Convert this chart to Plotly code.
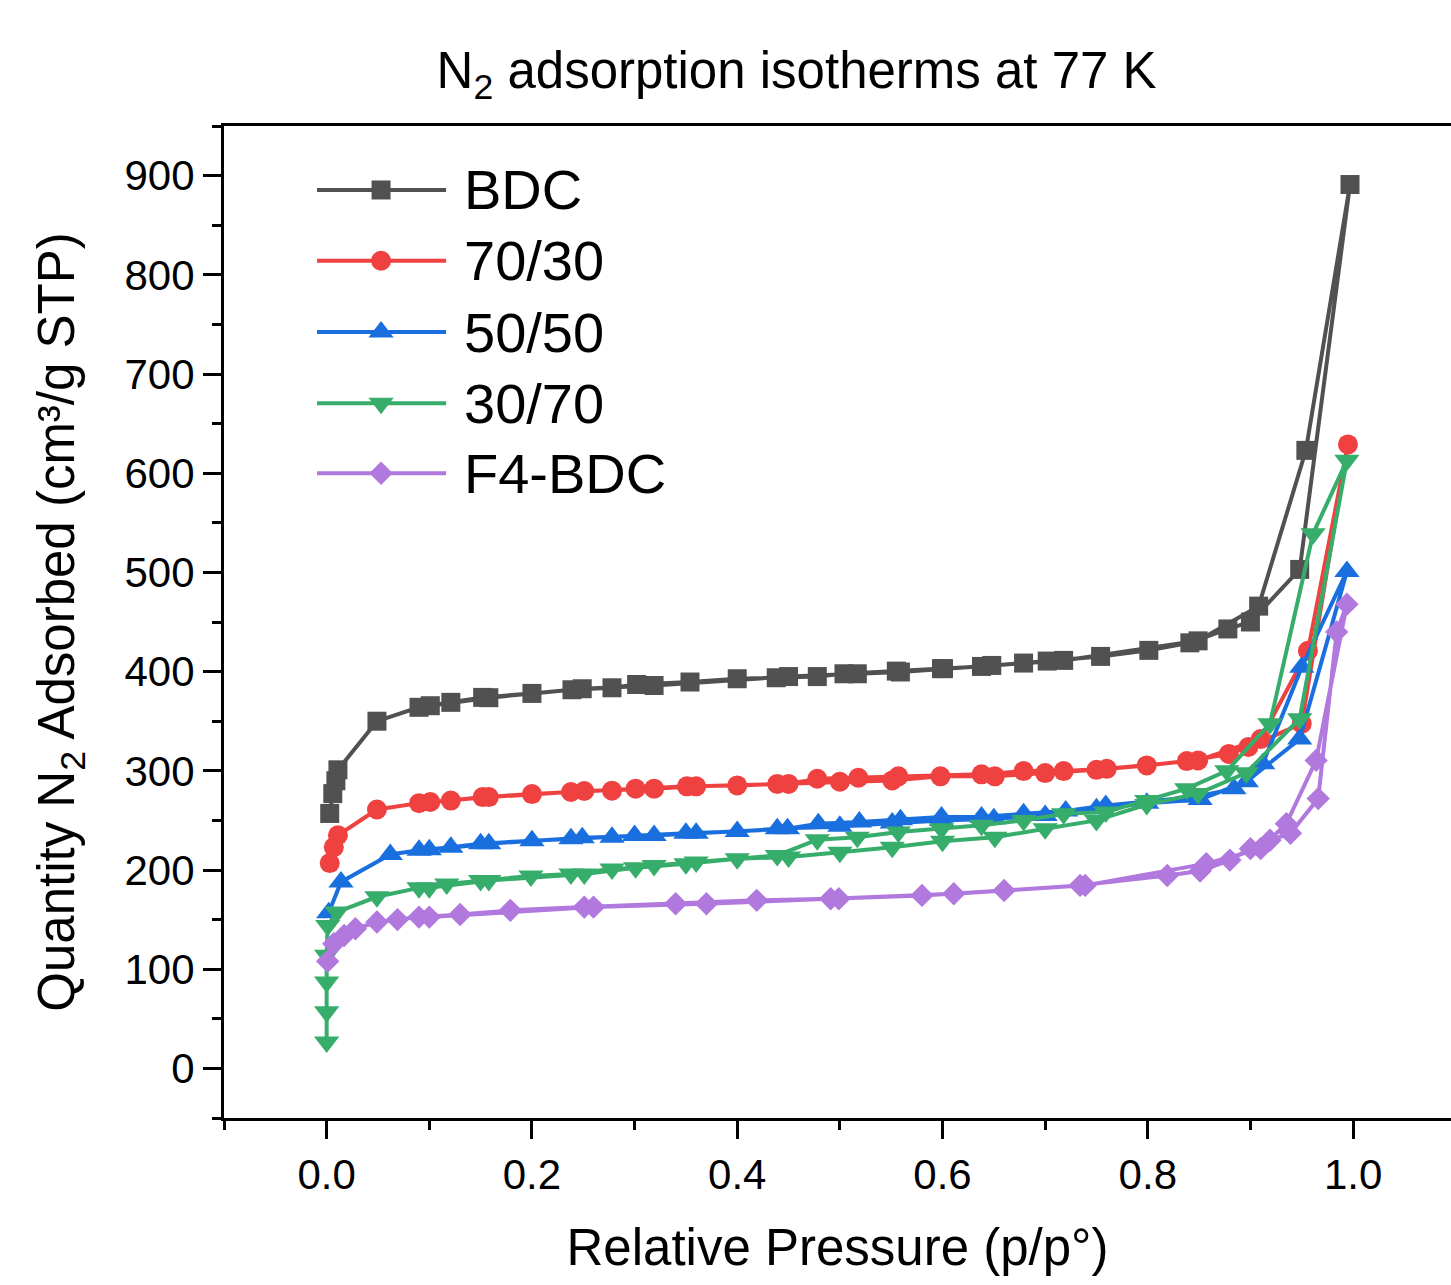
import plotly.graph_objects as go

# ---- data ----
series_names = ["BDC", "70/30", "50/50", "30/70", "F4-BDC"]
series_colors = ["#515151", "#F04141", "#1A6FDF", "#37AD6B", "#B178DE"]
series_symbols = ["square", "circle", "triangle-up", "triangle-down", "diamond"]
series_msize = [19, 20, 22, 22, 18]

# BDC: adsorption then desorption branch
bdc_x = [0.003, 0.006, 0.009, 0.011, 0.049, 0.090, 0.121, 0.152, 0.200, 0.239, 0.278, 0.302,
         0.354, 0.400, 0.438, 0.478, 0.504, 0.555, 0.599, 0.638, 0.679, 0.702, 0.754, 0.801,
         0.841, 0.878, 0.900, 0.948, 0.997,
         0.954, 0.908, 0.849, 0.718, 0.648, 0.601, 0.559, 0.517, 0.450, 0.319, 0.249, 0.158, 0.101]
bdc_y = [257, 277, 290, 301, 350, 364, 369, 374, 378, 381.7, 383.7, 387,
         389.5, 392.8, 393.8, 395, 397.8, 400.5, 403, 405.2, 408.6, 410.6, 415.3, 421.4,
         429, 443, 450, 503, 891,
         623, 466, 431, 411.3, 406.2, 403, 399.6, 397.8, 395, 386, 382.7, 373.7, 365.6]

# 70/30
r7030_x = [0.003, 0.007, 0.011, 0.049, 0.090, 0.121, 0.152, 0.200, 0.238, 0.278, 0.301, 0.351,
           0.400, 0.439, 0.500, 0.551, 0.598, 0.651, 0.700, 0.750, 0.799, 0.838, 0.879, 0.898,
           0.950, 0.995,
           0.956, 0.910, 0.849, 0.760, 0.718, 0.679, 0.638, 0.557, 0.518, 0.478, 0.450, 0.360,
           0.319, 0.251, 0.158, 0.101]
r7030_y = [207, 223, 235, 261, 267.4, 270, 273.5, 276.5, 278.6, 280, 282, 284.3,
           285.3, 286.8, 289, 290.3, 294.4, 294.4, 297.7, 301, 305.4, 309.8, 317, 324,
           347.5, 629,
           421, 332, 310.5, 302, 299.7, 299.7, 296.4, 294.4, 293, 292, 286.8, 284.3,
           282, 279.6, 273.5, 268.5]

# 50/50
r5050_x = [0.002, 0.014, 0.062, 0.090, 0.121, 0.150, 0.200, 0.238, 0.278, 0.300, 0.350, 0.400,
           0.439, 0.500, 0.551, 0.599, 0.650, 0.700, 0.750, 0.799, 0.851, 0.896, 0.948, 0.994,
           0.950, 0.912, 0.884, 0.845, 0.759, 0.720, 0.679, 0.638, 0.599, 0.559, 0.519, 0.479,
           0.449, 0.360, 0.319, 0.249, 0.158, 0.100]
r5050_y = [157, 188, 215.7, 219.8, 223, 226.5, 229.5, 231.5, 233, 234.8, 237, 238.8,
           241.6, 244, 247.3, 250, 251.7, 255, 261.8, 267.4, 271, 289, 332, 501,
           404.5, 307, 282, 273.5, 265, 259.4, 256.7, 253.4, 253.4, 250.7, 248.3, 246.6,
           241.6, 237, 234.8, 232.5, 226.5, 220.4]

# 30/70
r3070_x = [0.0, 0.0, 0.0, 0.0, 0.001, 0.010, 0.049, 0.090, 0.117, 0.150, 0.199, 0.238, 0.278,
           0.301, 0.350, 0.400, 0.450, 0.500, 0.551, 0.600, 0.651, 0.700, 0.750, 0.799, 0.849,
           0.896, 0.948, 0.994,
           0.961, 0.919, 0.877, 0.838, 0.799, 0.759, 0.718, 0.679, 0.638, 0.599, 0.557, 0.517,
           0.478, 0.439, 0.360, 0.319, 0.251, 0.158, 0.100]
r3070_y = [26.5, 57, 87, 114, 144, 157.6, 173, 182, 186, 189.5, 194, 196, 201,
           202.3, 206.3, 211.4, 213, 218, 223, 229, 233, 241.6, 250, 266, 277,
           298, 352.5, 613,
           539, 347.5, 300, 282, 270, 258.4, 256.7, 250, 245, 241.6, 238.2, 233,
           230.5, 214.7, 208, 204.6, 196, 189.5, 182]

# F4-BDC
f4_x = [0.001, 0.007, 0.017, 0.028, 0.049, 0.069, 0.090, 0.130, 0.179, 0.251, 0.340, 0.419,
        0.491, 0.580, 0.660, 0.734, 0.819, 0.851, 0.880, 0.900, 0.919, 0.939, 0.966, 0.984, 0.994,
        0.964, 0.935, 0.910, 0.857, 0.739, 0.611, 0.499, 0.370, 0.260, 0.100]
f4_y = [108, 125.7, 134, 140.8, 147.6, 150, 152.5, 155.2, 159.3, 162.6, 166, 169.4,
        171, 174.4, 179.4, 184.5, 194.5, 199, 210, 221.5, 230, 237, 272, 440, 468,
        310.5, 246.7, 221.5, 206.4, 184.5, 176, 171, 166, 162.6, 152.5]

xs = [bdc_x, r7030_x, r5050_x, r3070_x, f4_x]
ys = [bdc_y, r7030_y, r5050_y, r3070_y, f4_y]

x_ticks = [0.0, 0.2, 0.4, 0.6, 0.8, 1.0]
x_ticklabels = ["0.0", "0.2", "0.4", "0.6", "0.8", "1.0"]
y_ticks = [0, 100, 200, 300, 400, 500, 600, 700, 800, 900]

FONT = "Liberation Sans, Arial, Helvetica, sans-serif"
LW = 4

fig = go.Figure()
for name, color, sym, ms, x, y in zip(series_names, series_colors, series_symbols, series_msize, xs, ys):
    fig.add_trace(go.Scatter(
        x=x, y=y, mode="lines+markers", name=name, showlegend=False,
        line=dict(color=color, width=LW),
        marker=dict(symbol=sym, size=ms, color=color, line=dict(width=0)),
        cliponaxis=False,
    ))

# ---- custom legend (long sample lines as in the reference) ----
leg_x0, leg_xm, leg_x1, leg_xt = 0.0758, 0.128, 0.181, 0.194
leg_rows = [0.9355, 0.8642, 0.7923, 0.7204, 0.6499]
for name, color, sym, ms, ly in zip(series_names, series_colors, series_symbols, series_msize, leg_rows):
    fig.add_trace(go.Scatter(
        x=[leg_x0, leg_x1], y=[ly, ly], xaxis="x2", yaxis="y2",
        mode="lines", showlegend=False, hoverinfo="skip",
        line=dict(color=color, width=LW), cliponaxis=False,
    ))
    fig.add_trace(go.Scatter(
        x=[leg_xm], y=[ly], xaxis="x2", yaxis="y2",
        mode="markers", showlegend=False, hoverinfo="skip",
        marker=dict(symbol=sym, size=ms, color=color, line=dict(width=0)),
        cliponaxis=False,
    ))
    fig.add_annotation(
        x=leg_xt, y=ly, xref="paper", yref="paper", text=name, showarrow=False,
        xanchor="left", yanchor="middle", font=dict(family=FONT, size=56, color="black"),
    )

axis_common = dict(
    showgrid=False, zeroline=False, showline=True, linecolor="black", linewidth=3,
    ticks="outside", ticklen=18, tickwidth=3, tickcolor="black",
    tickfont=dict(family=FONT, size=42, color="black"),
)

fig.update_layout(
    width=1451, height=1285,
    margin=dict(l=224, r=0, t=126, b=167),
    paper_bgcolor="white", plot_bgcolor="white",
    showlegend=False,
    title=dict(
        text="N<sub>2</sub> adsorption isotherms at 77 K",
        x=0.549, xref="container", xanchor="center",
        y=1 - 70 / 1285, yref="container", yanchor="middle",
        font=dict(family=FONT, size=51, color="black"),
    ),
    xaxis=dict(
        **axis_common, range=[-0.1, 1.0954], mirror=True,
        tickmode="array", tickvals=x_ticks, ticktext=x_ticklabels,
        minor=dict(ticks="outside", ticklen=9, tickwidth=3, tickcolor="black", dtick=0.1, tick0=-0.1),
        title=dict(text="Relative Pressure (p/p°)", font=dict(family=FONT, size=51, color="black"), standoff=32),
    ),
    yaxis=dict(
        **axis_common, range=[-50, 950], mirror=False,
        tickmode="array", tickvals=y_ticks,
        minor=dict(ticks="outside", ticklen=9, tickwidth=3, tickcolor="black", dtick=50, tick0=-50),
        title=dict(text="Quantity N<sub>2</sub> Adsorbed (cm³/g STP)", font=dict(family=FONT, size=51, color="black"), standoff=34),
    ),
    xaxis2=dict(overlaying="x", range=[0, 1], visible=False, fixedrange=True),
    yaxis2=dict(overlaying="y", range=[0, 1], visible=False, fixedrange=True),
)

fig.write_html("out.html")
